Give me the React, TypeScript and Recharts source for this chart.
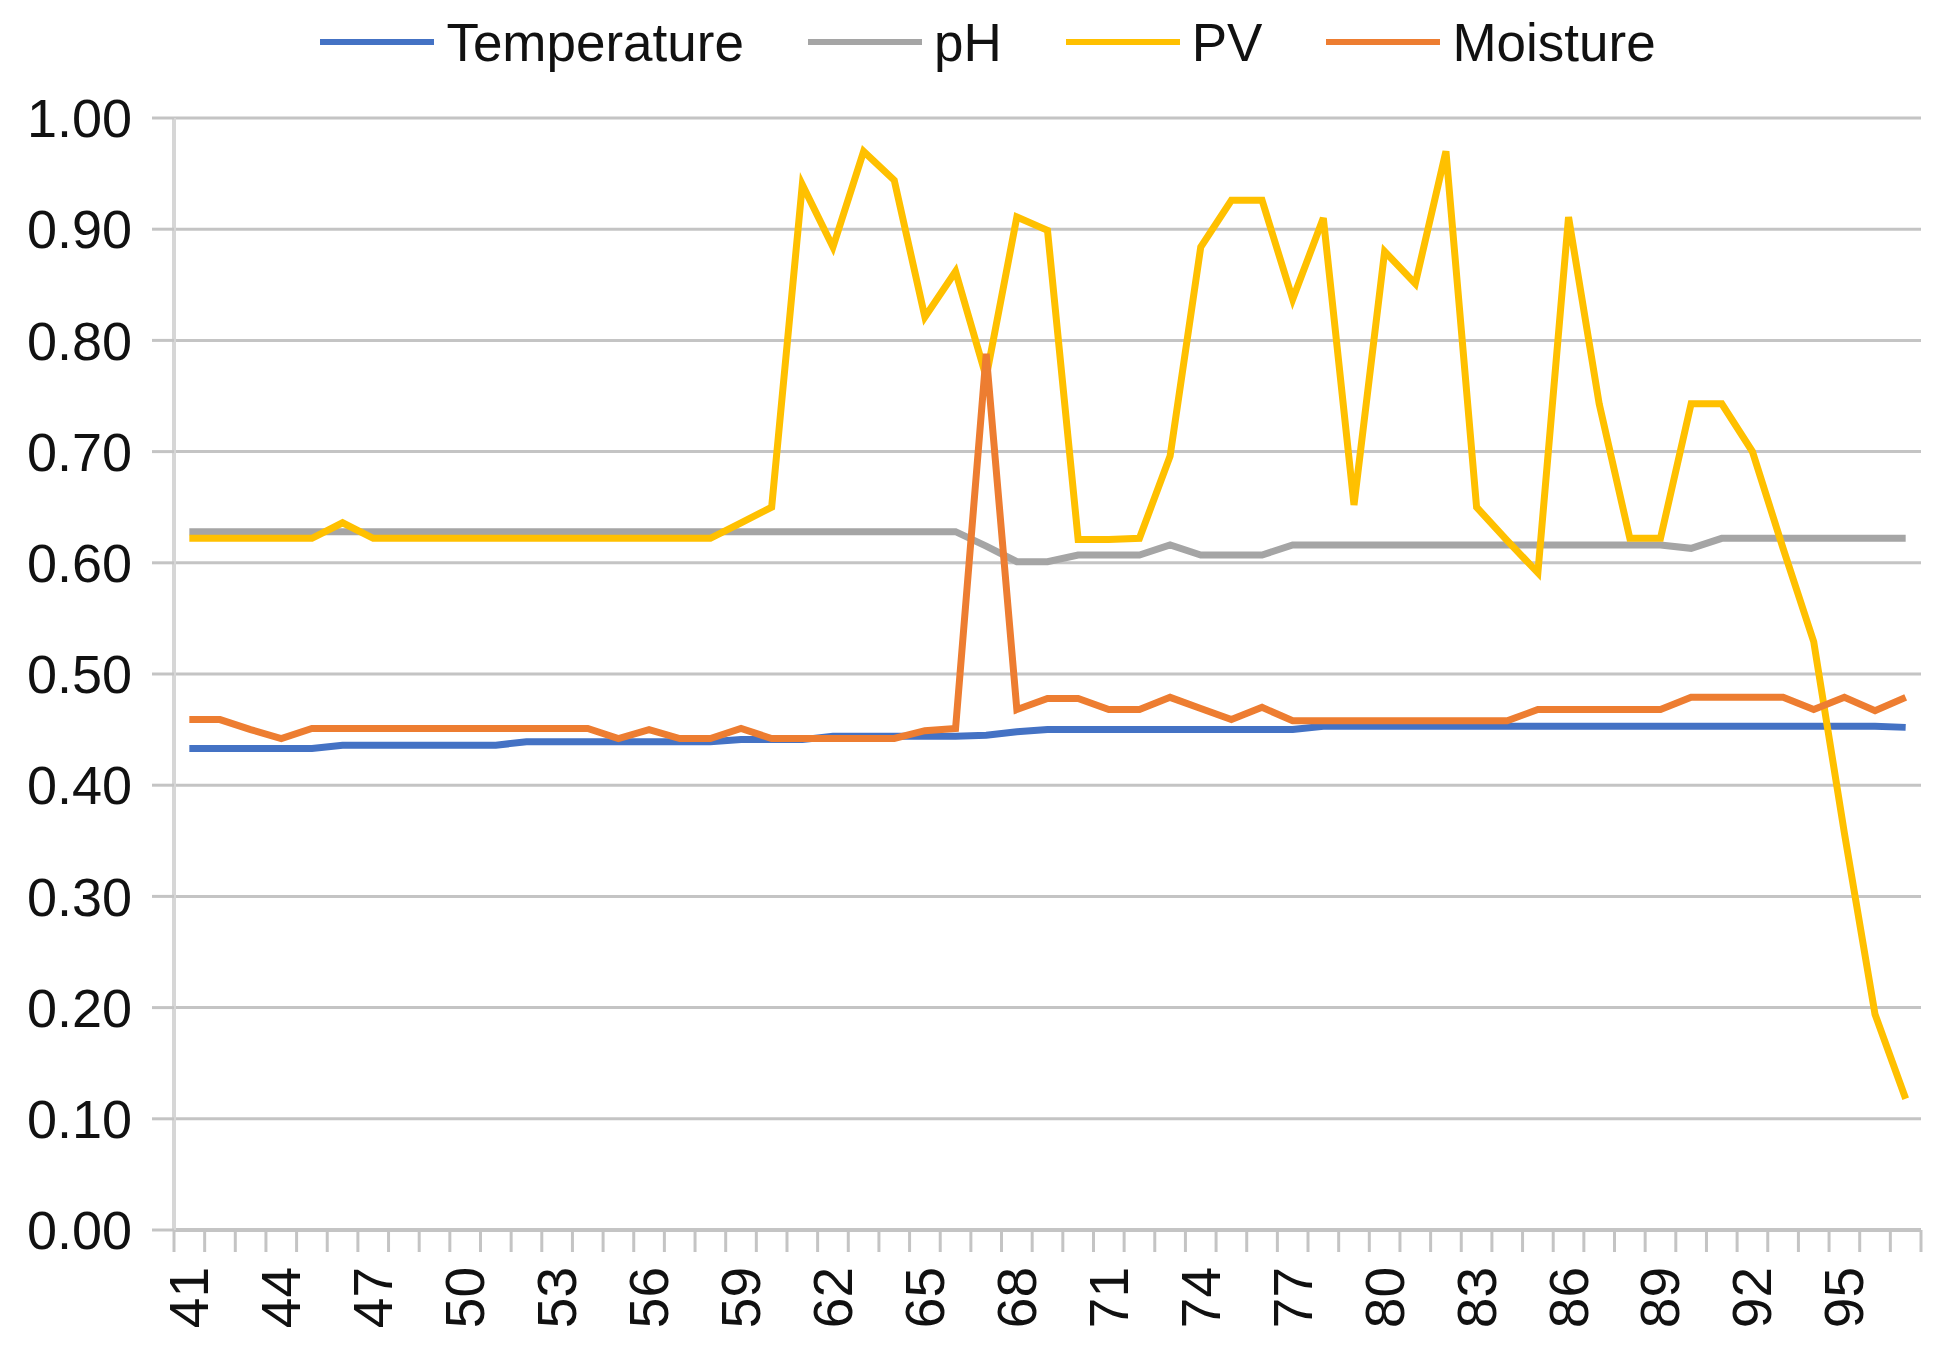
import React from 'react';
import {
  LineChart,
  Line,
  XAxis,
  YAxis,
  CartesianGrid,
  Legend,
} from 'recharts';

// categories (x axis)
const CATEGORIES = [
  41, 42, 43, 44, 45, 46, 47, 48, 49, 50,
  51, 52, 53, 54, 55, 56, 57, 58, 59, 60,
  61, 62, 63, 64, 65, 66, 67, 68, 69, 70,
  71, 72, 73, 74, 75, 76, 77, 78, 79, 80,
  81, 82, 83, 84, 85, 86, 87, 88, 89, 90,
  91, 92, 93, 94, 95, 96, 97,
];

const TEMPERATURE = [
  0.433, 0.433, 0.433, 0.433, 0.433, 0.436, 0.436, 0.436, 0.436, 0.436,
  0.436, 0.439, 0.439, 0.439, 0.439, 0.439, 0.439, 0.439, 0.441, 0.441,
  0.441, 0.444, 0.444, 0.444, 0.444, 0.444, 0.445, 0.448, 0.450, 0.450,
  0.450, 0.450, 0.450, 0.450, 0.450, 0.450, 0.450, 0.453, 0.453, 0.453,
  0.453, 0.453, 0.453, 0.453, 0.453, 0.453, 0.453, 0.453, 0.453, 0.453,
  0.453, 0.453, 0.453, 0.453, 0.453, 0.453, 0.452,
];

const PH = [
  0.628, 0.628, 0.628, 0.628, 0.628, 0.628, 0.628, 0.628, 0.628, 0.628,
  0.628, 0.628, 0.628, 0.628, 0.628, 0.628, 0.628, 0.628, 0.628, 0.628,
  0.628, 0.628, 0.628, 0.628, 0.628, 0.628, 0.615, 0.601, 0.601, 0.607,
  0.607, 0.607, 0.616, 0.607, 0.607, 0.607, 0.616, 0.616, 0.616, 0.616,
  0.616, 0.616, 0.616, 0.616, 0.616, 0.616, 0.616, 0.616, 0.616, 0.613,
  0.622, 0.622, 0.622, 0.622, 0.622, 0.622, 0.622,
];

const PV = [
  0.622, 0.622, 0.622, 0.622, 0.622, 0.636, 0.622, 0.622, 0.622, 0.622,
  0.622, 0.622, 0.622, 0.622, 0.622, 0.622, 0.622, 0.622, 0.636, 0.650,
  0.940, 0.884, 0.970, 0.944, 0.821, 0.862, 0.767, 0.911, 0.899, 0.621,
  0.621, 0.622, 0.696, 0.884, 0.926, 0.926, 0.837, 0.910, 0.652, 0.880,
  0.851, 0.970, 0.650, 0.620, 0.591, 0.911, 0.743, 0.622, 0.622, 0.743,
  0.743, 0.700, 0.613, 0.529, 0.357, 0.194, 0.118,
];

const MOISTURE = [
  0.459, 0.459, 0.450, 0.442, 0.451, 0.451, 0.451, 0.451, 0.451, 0.451,
  0.451, 0.451, 0.451, 0.451, 0.442, 0.450, 0.442, 0.442, 0.451, 0.442,
  0.442, 0.442, 0.442, 0.442, 0.449, 0.451, 0.788, 0.468, 0.478, 0.478,
  0.468, 0.468, 0.479, 0.469, 0.459, 0.470, 0.458, 0.458, 0.458, 0.458,
  0.458, 0.458, 0.458, 0.458, 0.468, 0.468, 0.468, 0.468, 0.468, 0.479,
  0.479, 0.479, 0.479, 0.468, 0.479, 0.467, 0.479,
];

const SERIES_ORDER = ['Temperature', 'pH', 'PV', 'Moisture'];
const X_LABELS = [41, 44, 47, 50, 53, 56, 59, 62, 65, 68, 71, 74, 77, 80, 83, 86, 89, 92, 95];
const Y_TICKS = [0, 0.1, 0.2, 0.3, 0.4, 0.5, 0.6, 0.7, 0.8, 0.9, 1.0];

const FONT = '"Liberation Sans", Arial, sans-serif';
const TEXT = '#111';
const GRID = '#c4c4c4';
const LINE_W = 7;

const data = CATEGORIES.map((day, i) => ({
  day,
  temperature: TEMPERATURE[i],
  ph: PH[i],
  pv: PV[i],
  moisture: MOISTURE[i],
}));

// tick marks sit between categories, like the excel category axis
const boundaries = CATEGORIES.map((c) => c - 0.5).concat([CATEGORIES[CATEGORIES.length - 1] + 0.5]);
const xDomain = [boundaries[0], boundaries[boundaries.length - 1]];

const XTick = (props: any) => {
  const { x, y, payload } = props;
  return (
    <text
      x={x}
      y={y}
      transform={`rotate(-90 ${x} ${y})`}
      textAnchor="end"
      dominantBaseline="central"
      fontFamily={FONT}
      fontSize={55}
      fill={TEXT}
    >
      {payload.value}
    </text>
  );
};

const NoTick = () => <g />;

const renderLegend = (props: any) => {
  const payload = [...props.payload].sort(
    (a: any, b: any) => SERIES_ORDER.indexOf(a.value) - SERIES_ORDER.indexOf(b.value)
  );
  return (
    <div
      style={{
        display: 'flex',
        justifyContent: 'center',
        alignItems: 'center',
        height: 84,
        paddingLeft: 30,
        fontFamily: FONT,
        fontSize: 53,
        color: TEXT,
      }}
    >
      {payload.map((entry: any, i: number) => (
        <div key={entry.value} style={{ display: 'flex', alignItems: 'center', marginLeft: i === 0 ? 0 : 64 }}>
          <svg width={114} height={10} style={{ marginRight: 12 }}>
            <line x1={0} y1={5} x2={114} y2={5} stroke={entry.color} strokeWidth={6} />
          </svg>
          <span>{entry.value}</span>
        </div>
      ))}
    </div>
  );
};

export default function App() {
  return (
    <div style={{ position: 'absolute', left: 0, top: 0, width: 1946, height: 1350, background: '#fff' }}>
      <LineChart width={1946} height={1350} data={data} margin={{ top: 34, right: 25, left: 0, bottom: 0 }}>
        <Legend
          verticalAlign="top"
          height={84}
          wrapperStyle={{ top: 0, left: 0, width: 1946 }}
          content={renderLegend}
        />
        <CartesianGrid xAxisId="b_labels" vertical={false} stroke={GRID} strokeWidth={3} />
        <XAxis
          xAxisId="a_marks"
          type="number"
          dataKey="day"
          domain={xDomain}
          allowDataOverflow
          ticks={boundaries}
          interval={0}
          tick={<NoTick />}
          tickSize={22}
          height={1}
          axisLine={{ stroke: GRID, strokeWidth: 4 }}
          tickLine={{ stroke: GRID, strokeWidth: 3 }}
        />
        <XAxis
          xAxisId="b_labels"
          type="number"
          dataKey="day"
          domain={xDomain}
          allowDataOverflow
          ticks={X_LABELS}
          interval={0}
          tickLine={false}
          axisLine={false}
          tickSize={0}
          tickMargin={36}
          height={119}
          tick={<XTick />}
        />
        <YAxis
          domain={[0, 1]}
          ticks={Y_TICKS}
          interval={0}
          width={174}
          tickSize={22}
          tickMargin={20}
          tickFormatter={(v: number) => v.toFixed(2)}
          tick={{ fontFamily: FONT, fontSize: 54, fill: TEXT }}
          axisLine={{ stroke: '#d6d6d6', strokeWidth: 4 }}
          tickLine={{ stroke: GRID, strokeWidth: 3 }}
        />
        <Line xAxisId="b_labels" name="Temperature" dataKey="temperature" stroke="#4472c4" strokeWidth={LINE_W} dot={false} isAnimationActive={false} />
        <Line xAxisId="b_labels" name="pH" dataKey="ph" stroke="#a5a5a5" strokeWidth={LINE_W} dot={false} isAnimationActive={false} />
        <Line xAxisId="b_labels" name="PV" dataKey="pv" stroke="#ffc000" strokeWidth={LINE_W} dot={false} isAnimationActive={false} />
        <Line xAxisId="b_labels" name="Moisture" dataKey="moisture" stroke="#ed7d31" strokeWidth={LINE_W} dot={false} isAnimationActive={false} />
      </LineChart>
    </div>
  );
}
